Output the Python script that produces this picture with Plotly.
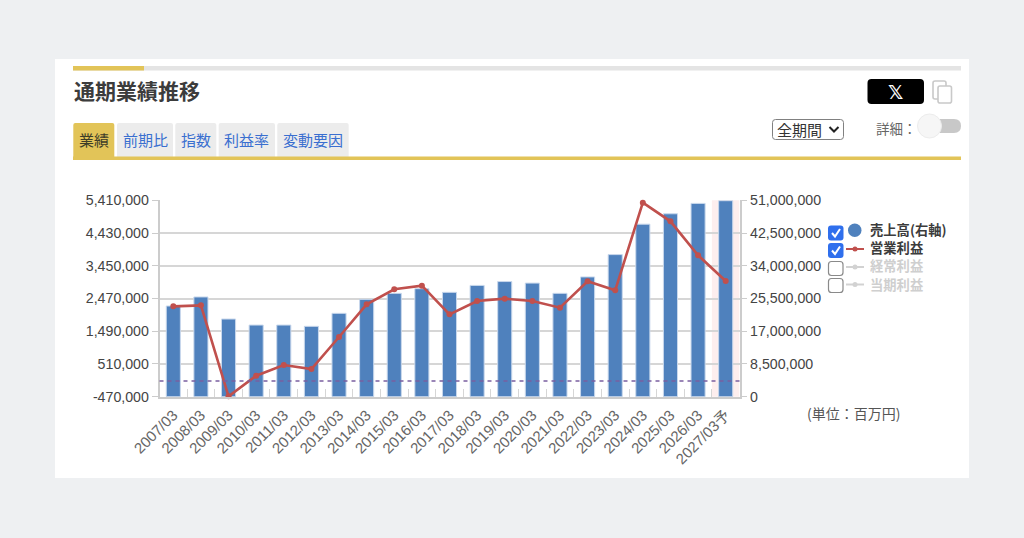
import plotly.graph_objects as go

# Fiscal-year results: net sales on the right axis, operating profit on the left
periods = ["2007/03", "2008/03", "2009/03", "2010/03", "2011/03", "2012/03", "2013/03",
           "2014/03", "2015/03", "2016/03", "2017/03", "2018/03", "2019/03", "2020/03",
           "2021/03", "2022/03", "2023/03", "2024/03", "2025/03", "2026/03", "2027/03予"]
net_sales = [23550000, 25900000, 20170000, 18600000, 18600000, 18270000, 21650000,
             25280000, 26840000, 28050000, 27100000, 28900000, 29900000, 29500000,
             26840000, 31100000, 36900000, 44800000, 47500000, 50200000, 50900000]
operating_profit = [2235000, 2265000, -460000, 159000, 478000, 359000, 1317000,
                    2295000, 2745000, 2854000, 1996000, 2395000, 2465000, 2395000,
                    2195000, 2984000, 2715000, 5340000, 4780000, 3763000, 2994000]
left_ticks = [-470000, 510000, 1490000, 2470000, 3450000, 4430000, 5410000]
right_ticks = [0, 8500000, 17000000, 25500000, 34000000, 42500000, 51000000]
tabs = ["業績", "前期比", "指数", "利益率", "変動要因"]
legend_names = ["売上高(右軸)", "営業利益", "経常利益", "当期利益"]

W, H = 1024, 538
FONT = "Liberation Sans, Noto Sans CJK JP, sans-serif"
CJK = "Noto Sans CJK JP, sans-serif"
GOLD = "#e2c458"
BLUE = "#4f81bd"
RED = "#c0504d"


def px(x):
    return x / W


def py(y):
    return 1 - y / H


shapes = []
annotations = []


def box(x0, y0, x1, y1, fill, line=None, width=1, layer="below"):
    shapes.append(dict(type="rect", xref="paper", yref="paper", layer=layer,
                       x0=px(x0), x1=px(x1), y0=py(y0), y1=py(y1), fillcolor=fill,
                       line=dict(color=line or fill, width=width if line else 0)))


def rounded(x0, y0, x1, y1, r, fill, line=None, width=1, corners=True, layer="above"):
    # Rounded rectangle as an SVG path in paper coordinates
    def P(x, y):
        return f"{px(x):.5f} {py(y):.5f}"
    if corners:
        path = (f"M {P(x0 + r, y0)} L {P(x1 - r, y0)} Q {P(x1, y0)} {P(x1, y0 + r)} "
                f"L {P(x1, y1 - r)} Q {P(x1, y1)} {P(x1 - r, y1)} L {P(x0 + r, y1)} "
                f"Q {P(x0, y1)} {P(x0, y1 - r)} L {P(x0, y0 + r)} Q {P(x0, y0)} {P(x0 + r, y0)} Z")
    else:
        path = (f"M {P(x0, y1)} L {P(x0, y0 + r)} Q {P(x0, y0)} {P(x0 + r, y0)} "
                f"L {P(x1 - r, y0)} Q {P(x1, y0)} {P(x1, y0 + r)} L {P(x1, y1)} Z")
    shapes.append(dict(type="path", xref="paper", yref="paper", layer=layer, path=path,
                       fillcolor=fill, line=dict(color=line or fill, width=width if line else 0)))


def poly(points, color, width, layer="above"):
    path = "M " + " L ".join(f"{px(x):.5f} {py(y):.5f}" for x, y in points)
    shapes.append(dict(type="path", xref="paper", yref="paper", layer=layer, path=path,
                       line=dict(color=color, width=width)))


def text(x, y, s, size, color, anchor="left", family=CJK, bold=False):
    annotations.append(dict(xref="paper", yref="paper", x=px(x), y=py(y), text=f"<b>{s}</b>" if bold else s,
                            showarrow=False, xanchor=anchor, yanchor="middle", borderpad=0, borderwidth=0,
                            font=dict(size=size, color=color, family=family)))


# Card and header rule
box(55, 59, 969, 478, "#ffffff")
box(73, 66, 961, 70.5, "#e4e4e4")
box(73, 66, 144, 70.5, GOLD)
text(73.5, 90.5, "通期業績推移", 21, "#3c3c3c", bold=True)

# Tab strip
tab_edges = [(73.3, 114.3), (117, 173), (175.3, 216.3), (218.7, 275), (277.3, 348.7)]
for i, (name, (a, b)) in enumerate(zip(tabs, tab_edges)):
    rounded(a, 123, b, 157, 2, GOLD if i == 0 else "#ececec", corners=False, layer="below")
    text((a + b) / 2, 139.5, name, 15, "#3c3c28" if i == 0 else "#3a6fd0", anchor="center")
box(73, 156.5, 961, 160, GOLD)

# Share button, copy icon, period selector and detail toggle
rounded(867.5, 79, 924, 104, 4, "#000000")
text(895.5, 91.5, "𝕏", 19, "#ffffff", anchor="center", family="DejaVu Sans, sans-serif", bold=True)
rounded(933, 81, 946, 99, 2, "#ffffff", "#c9c9c9", 1.6)
rounded(938, 86, 951.5, 103, 2, "#ffffff", "#c9c9c9", 1.6)
rounded(772.5, 119.5, 843.5, 139.5, 3, "#ffffff", "#808080", 1)
text(777, 129, "全期間", 15, "#333333")
poly([(829.5, 127), (834, 131.5), (838.5, 127)], "#222222", 2)
text(876, 127.5, "詳細：", 13.5, "#666666")
rounded(920, 119, 961, 133, 7, "#c8c8c8")
shapes.append(dict(type="circle", xref="paper", yref="paper", layer="above",
                   x0=px(917.5), x1=px(941.5), y0=py(114), y1=py(138),
                   fillcolor="#f6f6f6", line=dict(color="#ececec", width=1)))

# Hand-drawn legend with checkboxes
legend_rows = [233, 250.5, 268.5, 285.5]
label_rows = [230, 248, 266, 284]
for i, (name, row, lab) in enumerate(zip(legend_names, legend_rows, label_rows)):
    on = i < 2
    if on:
        rounded(828, row - 7.5, 843.5, row + 7.5, 3, "#2f6fed")
        poly([(832, row), (835, row + 3.5), (840, row - 4)], "#ffffff", 2)
    else:
        rounded(828.5, row - 7, 843, row + 7, 3, "#ffffff", "#8a8a8a", 1.2)
    text(870, lab, name, 13.3, "#3c3c3c" if on else "#cfcfcf", bold=True)
shapes.append(dict(type="circle", xref="paper", yref="paper", layer="above",
                   x0=px(848), x1=px(861.5), y0=py(223.5), y1=py(237),
                   fillcolor=BLUE, line=dict(width=0)))
poly([(846, 249), (864, 249)], RED, 2)
shapes.append(dict(type="circle", xref="paper", yref="paper", layer="above",
                   x0=px(852.5), x1=px(857.5), y0=py(246.5), y1=py(251.5),
                   fillcolor=RED, line=dict(width=0)))
for row in (267, 284.5):
    poly([(846, row), (864, row)], "#d2d2d2", 2)
    shapes.append(dict(type="circle", xref="paper", yref="paper", layer="above",
                       x0=px(852.5), x1=px(857.5), y0=py(row - 2.5), y1=py(row + 2.5),
                       fillcolor="#d2d2d2", line=dict(width=0)))

text(807, 412.5, "(単位：百万円)", 14, "#555555")

# Tint behind the forecast period, dashed zero line on the profit axis
shapes.append(dict(type="rect", xref="x", yref="paper", layer="below",
                   x0=19.5, x1=20.5, y0=py(396.7), y1=py(200.3),
                   fillcolor="#fdeeee", line=dict(width=0)))
shapes.append(dict(type="line", xref="x domain", yref="y2", layer="above",
                   x0=0, x1=1, y0=0, y1=0,
                   line=dict(color="#7a5fa0", width=1.3, dash="4px,4px")))

fig = go.Figure()
fig.add_trace(go.Bar(x=periods, y=net_sales, yaxis="y", width=0.51, name="売上高(右軸)",
                     marker=dict(color=BLUE, line=dict(color="#c9d8ec", width=1))))
fig.add_trace(go.Scatter(x=periods, y=operating_profit, yaxis="y2", mode="lines+markers",
                         name="営業利益", cliponaxis=False,
                         line=dict(color=RED, width=2.6), marker=dict(color=RED, size=6)))

tick_font = dict(size=14.2, color="#444444", family=FONT)
fig.update_layout(
    width=W, height=H, margin=dict(l=0, r=0, t=0, b=0, autoexpand=False), autosize=False,
    paper_bgcolor="#eef0f2", plot_bgcolor="rgba(0,0,0,0)", showlegend=False,
    shapes=shapes, annotations=annotations, hovermode=False,
    xaxis=dict(domain=[px(159.5), px(739.5)], type="category", range=[-0.5, 20.5], automargin=False,
               tickangle=-45, tickson="boundaries", ticks="inside", ticklen=8, ticklabelstandoff=2,
               tickcolor="#d6d6d6", tickwidth=1, showgrid=False, showline=True,
               linecolor="#cccccc", linewidth=1.5, tickfont=dict(size=15, color="#666666", family=FONT)),
    yaxis=dict(domain=[py(396.7), py(200.3)], side="right", anchor="x", range=[0, 51000000], automargin=False,
               tickvals=right_ticks, ticktext=[f"{v:,}" for v in right_ticks], ticks="outside",
               ticklen=6, tickcolor="#cccccc", showgrid=True, gridcolor="#d6d6d6", gridwidth=1.5,
               showline=True, linecolor="#cccccc", linewidth=1.5, zeroline=False, tickfont=tick_font),
    yaxis2=dict(overlaying="y", side="left", anchor="x", range=[-470000, 5410000], automargin=False,
                tickvals=left_ticks, ticktext=[f"{v:,}" for v in left_ticks], ticks="outside",
                ticklen=6, tickcolor="#cccccc", showgrid=False, showline=True,
                linecolor="#cccccc", linewidth=1.5, zeroline=False, tickfont=tick_font),
)

fig.write_html("out.html")
